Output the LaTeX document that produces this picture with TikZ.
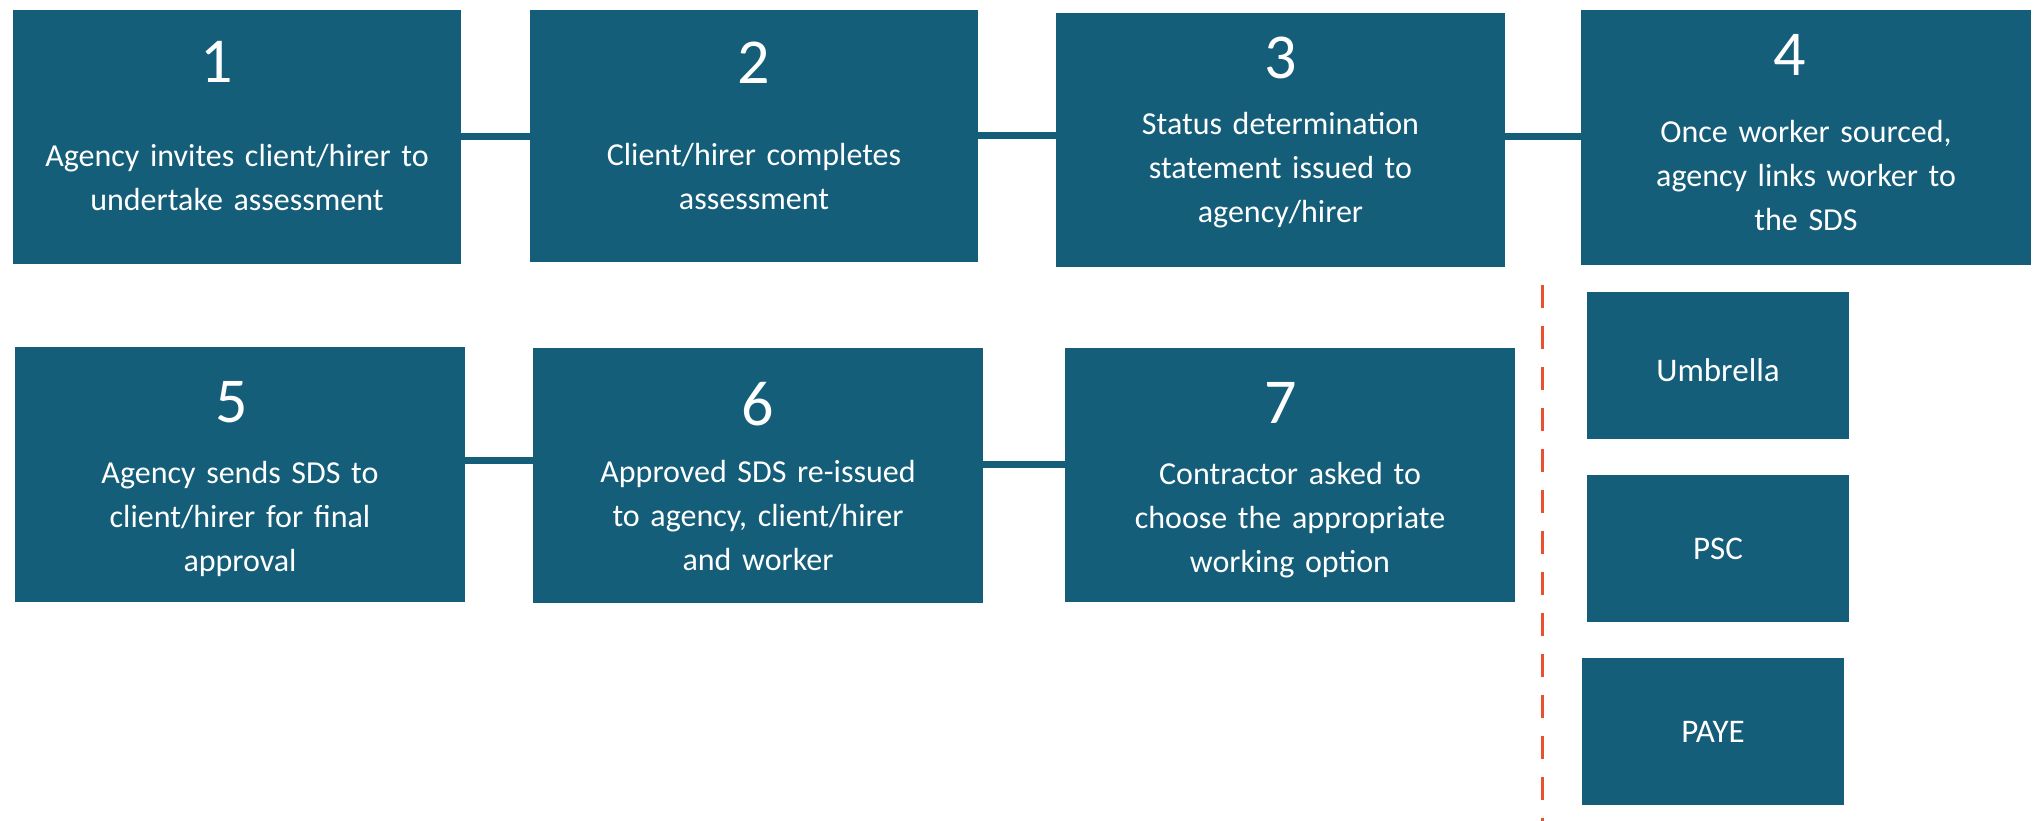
\documentclass[tikz,border=0pt]{standalone}
\usepackage{fontspec}
\setmainfont{Carlito}
\definecolor{boxblue}{HTML}{145E7A}
\definecolor{dashred}{HTML}{E8502F}
\begin{document}
\begin{tikzpicture}[x=1pt,y=-1pt,
 box/.style={fill=boxblue,draw=none,inner sep=0pt},
 num/.style={text=white,font=\fontsize{64}{64}\selectfont,anchor=base,inner sep=0pt},
 txt/.style={text=white,font=\fontsize{32}{44}\selectfont,anchor=base,align=center,text width=440pt,inner sep=0pt},
 opt/.style={text=white,font=\fontsize{33}{38}\selectfont},
 link/.style={draw=boxblue,line width=7pt},
 divider/.style={draw=dashred,line width=3pt,dash pattern=on 23pt off 18pt}]
\useasboundingbox (0,0) rectangle (2037,821);
% boxes
\node[box,minimum width=448pt,minimum height=254pt] (b1) at (237,137) {};
\node[box,minimum width=448pt,minimum height=252pt] (b2) at (754,136) {};
\node[box,minimum width=449pt,minimum height=254pt] (b3) at (1280.5,140) {};
\node[box,minimum width=450pt,minimum height=255pt] (b4) at (1806,137.5) {};
\node[box,minimum width=450pt,minimum height=255pt] (b5) at (240,474.5) {};
\node[box,minimum width=450pt,minimum height=255pt] (b6) at (758,475.5) {};
\node[box,minimum width=450pt,minimum height=254pt] (b7) at (1290,475) {};
\node[box,opt,text height=33pt,minimum width=262pt,minimum height=147pt] (u) at (1718,365.5) {Umbrella};
\node[box,opt,minimum width=262pt,minimum height=147pt] (p) at (1718,548.5) {PSC};
\node[box,opt,minimum width=262pt,minimum height=147pt] (y) at (1713,731.5) {PAYE};
% numbers
\node[num] (n1) at (217,83) {1};
\node[num] (n2) at (754,84) {2};
\node[num] (n3) at (1280.5,79) {3};
\node[num] (n4) at (1790,76) {4};
\node[num] (n5) at (232,422) {5};
\node[num] (n6) at (758,425) {6};
\node[num] (n7) at (1281,423) {7};
% texts
\node[txt] (t1) at (237,167) {Agency invites client/hirer to\\undertake assessment};
\node[txt] (t2) at (754,166) {Client/hirer completes\\assessment};
\node[txt] (t3) at (1280.5,135) {Status determination\\statement issued to\\agency/hirer};
\node[txt] (t4) at (1806,143) {Once worker sourced,\\agency links worker to\\the SDS};
\node[txt] (t5) at (240,483) {Agency sends SDS to\\client/hirer for final\\approval};
\node[txt] (t6) at (758,482) {Approved SDS re-issued\\to agency, client/hirer\\and worker};
\node[txt] (t7) at (1290,484) {Contractor asked to\\choose the appropriate\\working option};
% connectors
\draw[link] (b1.east) -- (b1.east -| b2.west);
\draw[link] (b2.east) -- (b2.east -| b3.west);
\draw[link] ([yshift=3pt]b3.east) -- ([yshift=3pt]b3.east -| b4.west);
\draw[link] ([yshift=14.5pt]b5.east) -- ([yshift=14.5pt]b5.east -| b6.west);
\draw[link] ([yshift=11.5pt]b6.east) -- ([yshift=11.5pt]b6.east -| b7.west);
% divider
\coordinate (d0) at (1542,285);
\coordinate (d1) at (1542,821);
\draw[divider] (d0) -- (d1);
\end{tikzpicture}
\end{document}
